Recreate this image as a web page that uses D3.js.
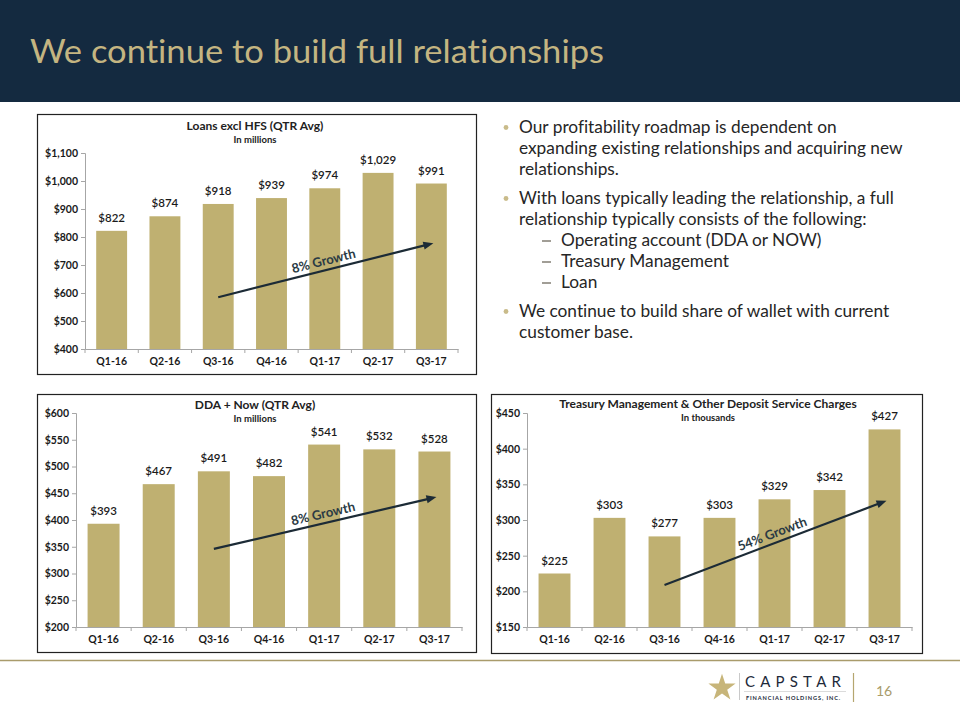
<!DOCTYPE html>
<html>
<head>
<meta charset="utf-8">
<script src="https://cdn.jsdelivr.net/npm/d3@7"></script>
<style>
  html, body { margin: 0; padding: 0; background: #ffffff; }
  svg { display: block; }
  text { font-family: Lato, "Open Sans", sans-serif; font-variant-ligatures: none; font-feature-settings: "liga" 0, "clig" 0; }
</style>
</head>
<body>
<svg id="page" width="960" height="720"></svg>
<script>
// ---------- DATA ----------
const quarters = ["Q1-16", "Q2-16", "Q3-16", "Q4-16", "Q1-17", "Q2-17", "Q3-17"];

const loansValues = [822, 874, 918, 939, 974, 1029, 991];
const loansTicks = [400, 500, 600, 700, 800, 900, 1000, 1100];

const ddaValues = [393, 467, 491, 482, 541, 532, 528];
const ddaTicks = [200, 250, 300, 350, 400, 450, 500, 550, 600];

const tmValues = [225, 303, 277, 303, 329, 342, 427];
const tmTicks = [150, 200, 250, 300, 350, 400, 450];

// growth arrows: [startCategory, startValue, endCategory, endValue]
const loansArrow = ["Q3-16", 585, "Q3-17", 778];
const ddaArrow = ["Q3-16", 346, "Q3-17", 443];
const tmArrow = ["Q3-16", 209, "Q3-17", 327];

const bullets = [
  { level: 0, lines: ["Our profitability roadmap is dependent on", "expanding existing relationships and acquiring new", "relationships."] },
  { level: 0, lines: ["With loans typically leading the relationship, a full", "relationship typically consists of the following:"] },
  { level: 1, lines: ["Operating account (DDA or NOW)"] },
  { level: 1, lines: ["Treasury Management"] },
  { level: 1, lines: ["Loan"] },
  { level: 0, lines: ["We continue to build share of wallet with current", "customer base."] }
];

// ---------- STYLE ----------
const NAVY = "#142a40";
const GOLD = "#bfb071";
const GOLD_TEXT = "#c4b581";
const TEXT = "#1a1a1a";
const ARROW = "#1c2b36";

const svg = d3.select("#page");

// header
svg.append("rect").attr("x", 0).attr("y", 0).attr("width", 960).attr("height", 102).attr("fill", NAVY);
svg.append("text").attr("x", 30).attr("y", 63)
  .attr("fill", GOLD_TEXT).attr("font-size", 33).attr("font-family", "Lato, sans-serif")
  .attr("textLength", 574).attr("lengthAdjust", "spacingAndGlyphs")
  .text("We continue to build full relationships");

// footer line
svg.append("line").attr("x1", 0).attr("x2", 960).attr("y1", 660.5).attr("y2", 660.5)
  .attr("stroke", "#a99b6b").attr("stroke-width", 1.5);

// ---------- CHART FUNCTION ----------
function drawChart(cfg) {
  const g = svg.append("g");
  g.append("rect")
    .attr("x", cfg.box[0] + 0.5).attr("y", cfg.box[1] + 0.5)
    .attr("width", cfg.box[2] - cfg.box[0]).attr("height", cfg.box[3] - cfg.box[1])
    .attr("fill", "#fff").attr("stroke", "#222").attr("stroke-width", 1.2);

  const x = d3.scaleBand().domain(quarters).range([cfg.x0, cfg.x1]).paddingInner(0.42).paddingOuter(0.21);
  const y = d3.scaleLinear().domain([cfg.ticks[0], cfg.ticks[cfg.ticks.length - 1]]).range([cfg.yBottom, cfg.yTop]);

  // bars
  g.selectAll("rect.bar").data(cfg.values).join("rect")
    .attr("class", "bar")
    .attr("x", (d, i) => x(quarters[i]))
    .attr("width", x.bandwidth())
    .attr("y", d => y(d))
    .attr("height", d => y(cfg.ticks[0]) - y(d))
    .attr("fill", GOLD);

  // y axis
  const yAxis = d3.axisLeft(y).tickValues(cfg.ticks).tickSize(4).tickPadding(3)
    .tickFormat(d => "$" + d3.format(",")(d));
  const ya = g.append("g").attr("transform", `translate(${cfg.x0},0)`).call(yAxis);
  ya.select(".domain").attr("stroke", "#a6a6a6");
  ya.selectAll(".tick line").attr("stroke", "#a6a6a6");
  ya.selectAll(".tick text").attr("fill", TEXT).attr("font-size", 10.5).attr("font-weight", 700)
    .attr("font-family", "Lato, sans-serif");

  // x axis
  const xAxis = d3.axisBottom(x).tickSize(0).tickPadding(9);
  const xa = g.append("g").attr("transform", `translate(0,${cfg.yBottom})`).call(xAxis);
  xa.select(".domain").attr("stroke", "#a6a6a6");
  xa.selectAll(".tick text").attr("fill", TEXT).attr("font-size", 10.5).attr("font-weight", 700)
    .attr("font-family", "Lato, sans-serif");
  // category boundary ticks
  const step = x.step();
  const bounds = d3.range(quarters.length + 1).map(i => cfg.x0 + i * step);
  xa.selectAll("line.bt").data(bounds).join("line").attr("class", "bt")
    .attr("x1", d => d).attr("x2", d => d).attr("y1", 0).attr("y2", 4).attr("stroke", "#a6a6a6");

  // value labels
  g.selectAll("text.val").data(cfg.values).join("text")
    .attr("class", "val")
    .attr("x", (d, i) => x(quarters[i]) + x.bandwidth() / 2)
    .attr("y", d => y(d) - 9)
    .attr("text-anchor", "middle").attr("fill", TEXT).attr("font-size", 11.5).attr("font-weight", 600)
    .text(d => "$" + d3.format(",")(d));

  // title
  g.append("text").attr("x", cfg.titleX).attr("y", cfg.titleY).attr("text-anchor", "middle")
    .attr("fill", "#222").attr("font-size", 12).attr("font-weight", 700).text(cfg.title);
  g.append("text").attr("x", cfg.titleX).attr("y", cfg.titleY + 12.5).attr("text-anchor", "middle")
    .attr("fill", "#222").attr("font-size", 9.5).attr("font-weight", 700).text(cfg.subtitle);

  // growth arrow
  const a = cfg.arrow;
  const xs = x(a[0]) + x.bandwidth() / 2, ys = y(a[1]);
  const xe = x(a[2]) + x.bandwidth() / 2 + 2, ye = y(a[3]);
  const ang = Math.atan2(ye - ys, xe - xs);
  const head = 10;
  g.append("line").attr("x1", xs).attr("y1", ys)
    .attr("x2", xe - head * 0.8 * Math.cos(ang)).attr("y2", ye - head * 0.8 * Math.sin(ang))
    .attr("stroke", ARROW).attr("stroke-width", 2.2);
  const p1 = [xe, ye];
  const p2 = [xe - head * Math.cos(ang) + 4 * Math.sin(ang), ye - head * Math.sin(ang) - 4 * Math.cos(ang)];
  const p3 = [xe - head * Math.cos(ang) - 4 * Math.sin(ang), ye - head * Math.sin(ang) + 4 * Math.cos(ang)];
  g.append("path").attr("d", d3.line()([p1, p2, p3]) + "Z").attr("fill", ARROW);
  const mx = xs + (xe - xs) * cfg.labelT, my = ys + (ye - ys) * cfg.labelT;
  g.append("text")
    .attr("transform", `translate(${mx + 5 * Math.sin(ang)},${my - 5 * Math.cos(ang)}) rotate(${ang * 180 / Math.PI})`)
    .attr("text-anchor", "middle").attr("fill", "#2a3a44").attr("font-size", 13).attr("font-weight", 700)
    .text(cfg.arrowLabel);
}

drawChart({
  box: [37, 114, 476, 374], x0: 85, x1: 458, yTop: 153, yBottom: 349,
  values: loansValues, ticks: loansTicks, arrow: loansArrow, arrowLabel: "8% Growth", labelT: 0.5,
  title: "Loans excl HFS (QTR Avg)", subtitle: "In millions", titleX: 255, titleY: 130
});
drawChart({
  box: [37, 394, 476, 652], x0: 76, x1: 462, yTop: 413, yBottom: 627,
  values: ddaValues, ticks: ddaTicks, arrow: ddaArrow, arrowLabel: "8% Growth", labelT: 0.5,
  title: "DDA + Now (QTR Avg)", subtitle: "In millions", titleX: 255, titleY: 409
});
drawChart({
  box: [491, 394, 922, 653], x0: 527, x1: 912, yTop: 413, yBottom: 627,
  values: tmValues, ticks: tmTicks, arrow: tmArrow, arrowLabel: "54% Growth", labelT: 0.5,
  title: "Treasury Management & Other Deposit Service Charges", subtitle: "In thousands", titleX: 708, titleY: 408
});

// ---------- BULLETS ----------
const bg = svg.append("g");
let yPos = 133;
bullets.forEach((b, bi) => {
  if (bi > 0) yPos += (b.level === 0 ? 29 : 21);
  if (b.level === 0) {
    bg.append("circle").attr("cx", 506).attr("cy", yPos - 5.5).attr("r", 2.4).attr("fill", "#c9bb8a");
  } else {
    bg.append("line").attr("x1", 542).attr("x2", 551).attr("y1", yPos - 5).attr("y2", yPos - 5)
      .attr("stroke", "#6e6a5e").attr("stroke-width", 1.3);
  }
  b.lines.forEach((ln, li) => {
    if (li > 0) yPos += 21;
    bg.append("text").attr("x", b.level === 0 ? 519 : 561).attr("y", yPos)
      .attr("fill", "#262626").attr("font-size", 17.3).text(ln);
  });
});

// ---------- LOGO ----------
const lg = svg.append("g");
lg.append("path").attr("d", d3.symbol(d3.symbolStar, 230)())
  .attr("transform", "translate(722,688)").attr("fill", "#c7b57a");
lg.append("line").attr("x1", 739.5).attr("x2", 739.5).attr("y1", 673).attr("y2", 700).attr("stroke", "#bbb").attr("stroke-width", 0.8);
lg.append("text").attr("x", 745).attr("y", 687).attr("fill", "#1d2a3a").attr("font-size", 15)
  .attr("letter-spacing", 5.2).text("CAPSTAR");
lg.append("line").attr("x1", 744).attr("x2", 846).attr("y1", 691.5).attr("y2", 691.5).attr("stroke", "#ccc").attr("stroke-width", 0.7);
lg.append("text").attr("x", 746).attr("y", 700).attr("fill", "#1d2a3a").attr("font-size", 5.6).attr("font-weight", 700)
  .attr("letter-spacing", 0.9).text("FINANCIAL HOLDINGS, INC.");
lg.append("line").attr("x1", 853.5).attr("x2", 853.5).attr("y1", 673).attr("y2", 702).attr("stroke", "#b5a66f").attr("stroke-width", 1.2);
lg.append("text").attr("x", 884).attr("y", 696).attr("text-anchor", "middle").attr("fill", "#a99b6b")
  .attr("font-size", 14).text("16");
</script>
</body>
</html>
